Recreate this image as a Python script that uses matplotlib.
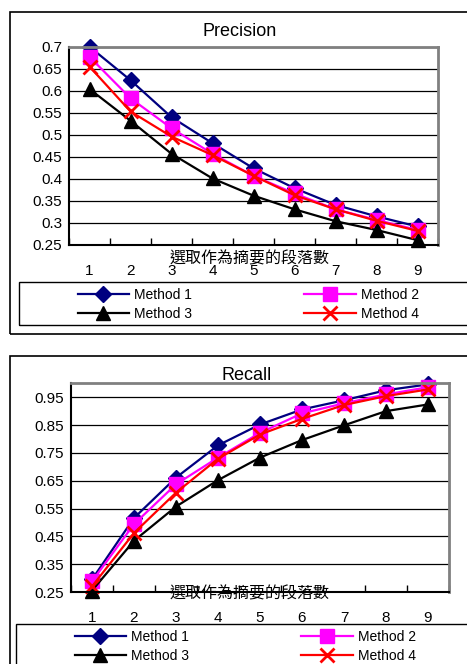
import numpy as np
import matplotlib.pyplot as plt
from matplotlib.patches import Rectangle
from matplotlib.lines import Line2D

plt.rcParams['font.family'] = ['Liberation Sans', 'Noto Sans CJK TC', 'DejaVu Sans']

n_par = [1, 2, 3, 4, 5, 6, 7, 8, 9]
methods = ['Method 1', 'Method 2', 'Method 3', 'Method 4']
xlabel = '選取作為摘要的段落數'

precision_m1 = [0.700, 0.624, 0.540, 0.481, 0.424, 0.379, 0.341, 0.315, 0.292]
precision_m2 = [0.677, 0.583, 0.515, 0.457, 0.407, 0.367, 0.331, 0.307, 0.284]
precision_m3 = [0.604, 0.532, 0.457, 0.401, 0.362, 0.331, 0.304, 0.284, 0.261]
precision_m4 = [0.655, 0.553, 0.496, 0.454, 0.407, 0.363, 0.331, 0.305, 0.282]

recall_m1 = [0.295, 0.516, 0.661, 0.777, 0.852, 0.906, 0.939, 0.975, 0.996]
recall_m2 = [0.288, 0.494, 0.637, 0.733, 0.822, 0.892, 0.928, 0.960, 0.986]
recall_m3 = [0.255, 0.434, 0.557, 0.652, 0.733, 0.796, 0.849, 0.900, 0.924]
recall_m4 = [0.270, 0.462, 0.607, 0.729, 0.816, 0.872, 0.922, 0.954, 0.978]

styles = [
    dict(color='#000080', marker='D', markersize=8),
    dict(color='#ff00ff', marker='s', markersize=10.5),
    dict(color='#000000', marker='^', markersize=10.5),
    dict(color='#ff0000', marker='x', markersize=10, markeredgewidth=2),
]

W, H = 467, 664
fig = plt.figure(figsize=(W / 100, H / 100), dpi=100)


def box(x0, y0, x1, y1):
    # pixel box (top-left origin) -> figure fraction rect
    return [x0 / W, 1 - y1 / H, (x1 - x0) / W, (y1 - y0) / H]


def chart(title, series, yticks, ylim, ax_px, frame_px, leg_px, title_xy, xlab_y):
    fx0, fy0, fx1, fy1 = frame_px
    fig.patches.append(Rectangle((fx0 / W, 1 - fy1 / H), (fx1 - fx0) / W, (fy1 - fy0) / H,
                                 transform=fig.transFigure, fill=False, ec='black', lw=1.2))
    lx0, ly0, lx1, ly1 = leg_px
    fig.patches.append(Rectangle((lx0 / W, 1 - ly1 / H), (lx1 - lx0) / W, (ly1 - ly0) / H,
                                 transform=fig.transFigure, fill=False, ec='black', lw=1.0))

    ax = fig.add_axes(box(*ax_px))
    for vals, st in zip(series, styles):
        ax.plot(n_par, vals, lw=1.6, clip_on=False, **st)
    ax.set_xlim(0.5, 9.5)
    ax.set_ylim(*ylim)
    ax.set_yticks(yticks)
    ax.set_yticklabels(['%g' % v for v in yticks], fontsize=11)
    ax.set_xticks(n_par)
    ax.set_xticklabels([str(v) for v in n_par], fontsize=11)
    ax.set_xticks(np.arange(0.5, 10, 1), minor=True)
    ax.tick_params(axis='x', which='major', length=0, pad=14)
    ax.tick_params(axis='x', which='minor', direction='in', length=5, width=1)
    ax.tick_params(axis='y', length=0, pad=5)
    ax.grid(axis='y', color='black', lw=0.9)
    ax.set_axisbelow(True)
    for s in ['left', 'bottom']:
        ax.spines[s].set_linewidth(1.5)
    for s in ['top', 'right']:
        ax.spines[s].set_color('#808080')
        ax.spines[s].set_linewidth(2)

    fig.text(title_xy[0] / W, 1 - title_xy[1] / H, title, fontsize=13, ha='center', va='center')
    fig.text(250 / W, 1 - xlab_y / H, xlabel, fontsize=11.5, ha='center', va='center',
             family=['Noto Sans CJK TC', 'DejaVu Sans'])

    handles = [Line2D([], [], lw=1.6, **st) for st in styles]
    order = [0, 2, 1, 3]
    fig.legend([handles[i] for i in order], [methods[i] for i in order], ncol=2,
               loc='upper left', bbox_to_anchor=((lx0 + 49) / W, 1 - (ly0 - 4) / H),
               frameon=False, fontsize=10, handlelength=3.7, handletextpad=0.35,
               columnspacing=8.1, labelspacing=0.4, borderpad=0.2)


chart('Precision', [precision_m1, precision_m2, precision_m3, precision_m4],
      [0.25, 0.3, 0.35, 0.4, 0.45, 0.5, 0.55, 0.6, 0.65, 0.7], (0.25, 0.7),
      (69, 46.7, 438, 245), (10, 12, 480, 334), (19, 282, 480, 325), (240, 32), 259)

chart('Recall', [recall_m1, recall_m2, recall_m3, recall_m4],
      [0.25, 0.35, 0.45, 0.55, 0.65, 0.75, 0.85, 0.95], (0.25, 1.0),
      (71, 383.3, 449, 592), (10, 356, 480, 690), (16, 624, 480, 690), (247, 375), 594)

plt.savefig('out.png', dpi=100)
